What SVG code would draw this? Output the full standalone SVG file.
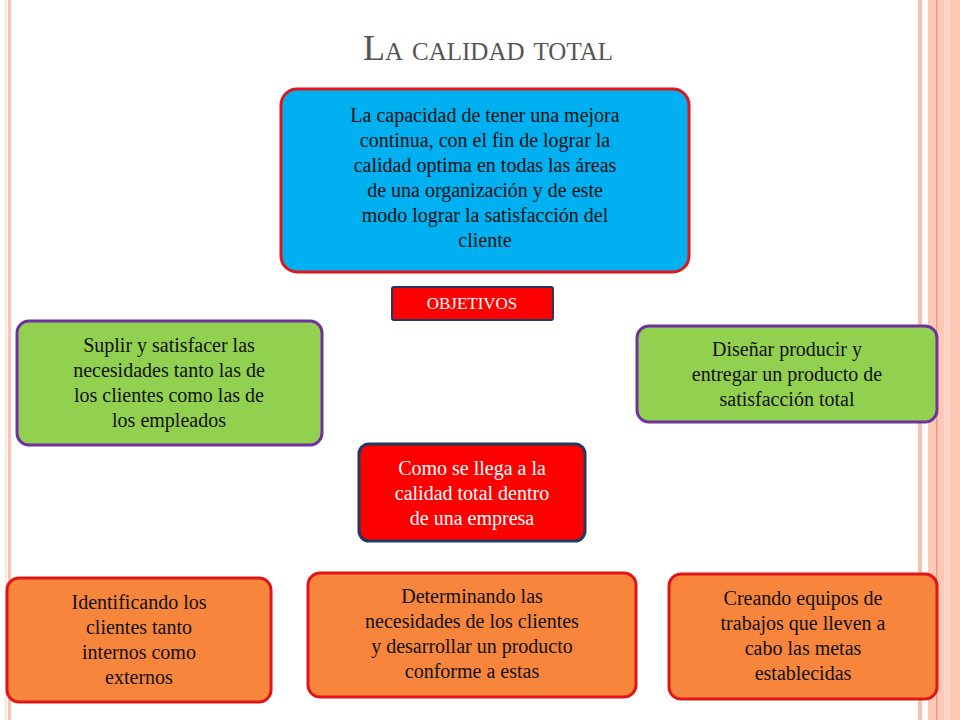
<svg xmlns="http://www.w3.org/2000/svg" width="960" height="720" viewBox="0 0 960 720">
<style>
.t{font-family:"Liberation Serif",serif;font-size:20px;text-anchor:middle;fill:#111}
.w{font-family:"Liberation Serif",serif;font-size:20px;text-anchor:middle;fill:#fff}
.g{fill:#92d050;stroke:#7030a0;stroke-width:3}
.o{fill:#f7853c;stroke:#e0161b;stroke-width:3}
</style>
<rect width="960" height="720" fill="#fff"/>
<rect x="5" y="0" width="2" height="720" fill="#fde3d8"/>
<rect x="8" y="0" width="3" height="720" fill="#f8c3b3"/>
<rect x="918" y="0" width="4" height="720" fill="#f8c0ae"/>
<rect x="928" y="0" width="32" height="720" fill="#fcc9b6"/>
<rect x="936" y="0" width="1.5" height="720" fill="#e89e86"/>
<rect x="944" y="0" width="6" height="720" fill="#fdd5c6"/>
<text x="488" y="60" style="font-family:'Liberation Serif',serif;font-size:36px;font-variant:small-caps;fill:#555" text-anchor="middle">La calidad total</text>
<g id="def"><rect x="281" y="89" width="408" height="183" rx="16" fill="#00b0f0" stroke="#e0161b" stroke-width="3"/>
<text class="t"><tspan x="485" y="122">La capacidad de tener una mejora</tspan><tspan x="485" y="147">continua, con el fin de lograr la</tspan><tspan x="485" y="172">calidad optima en todas las áreas</tspan><tspan x="485" y="197">de una organización y de este</tspan><tspan x="485" y="222">modo lograr la satisfacción del</tspan><tspan x="485" y="247">cliente</tspan></text></g>
<g id="obj"><rect x="392" y="287" width="161" height="33" rx="2" fill="#ff0000" stroke="#1f3864" stroke-width="2"/><text class="w" x="472" y="309" style="font-size:17px">OBJETIVOS</text></g>
<g id="g1"><rect class="g" x="17" y="321" width="305" height="124" rx="12"/><text class="t"><tspan x="169" y="352">Suplir y satisfacer las</tspan><tspan x="169" y="377">necesidades tanto las de</tspan><tspan x="169" y="402">los clientes como las de</tspan><tspan x="169" y="427">los empleados</tspan></text></g>
<g id="g2"><rect class="g" x="637" y="326" width="300" height="96" rx="12"/><text class="t"><tspan x="787" y="356">Diseñar producir y</tspan><tspan x="787" y="381">entregar un producto  de</tspan><tspan x="787" y="406">satisfacción total</tspan></text></g>
<g id="como"><rect x="359" y="444" width="226" height="97" rx="10" fill="#ff0000" stroke="#1f3864" stroke-width="3"/><text class="w"><tspan x="472" y="475">Como se llega a la</tspan><tspan x="472" y="500">calidad total dentro</tspan><tspan x="472" y="525">de una empresa</tspan></text></g>
<g id="o1"><rect class="o" x="7" y="578" width="264" height="124" rx="12"/><text class="t"><tspan x="139" y="609">Identificando los</tspan><tspan x="139" y="634">clientes tanto</tspan><tspan x="139" y="659">internos como</tspan><tspan x="139" y="684">externos</tspan></text></g>
<g id="o2"><rect class="o" x="308" y="573" width="328" height="124" rx="12"/><text class="t"><tspan x="472" y="603">Determinando las</tspan><tspan x="472" y="628">necesidades de los clientes</tspan><tspan x="472" y="653">y desarrollar un producto</tspan><tspan x="472" y="678">conforme a estas</tspan></text></g>
<g id="o3"><rect class="o" x="669" y="574" width="268" height="125" rx="12"/><text class="t"><tspan x="803" y="605">Creando equipos de</tspan><tspan x="803" y="630">trabajos que lleven a</tspan><tspan x="803" y="655">cabo las metas</tspan><tspan x="803" y="680">establecidas</tspan></text></g>
<g id="connectors"/>
</svg>
